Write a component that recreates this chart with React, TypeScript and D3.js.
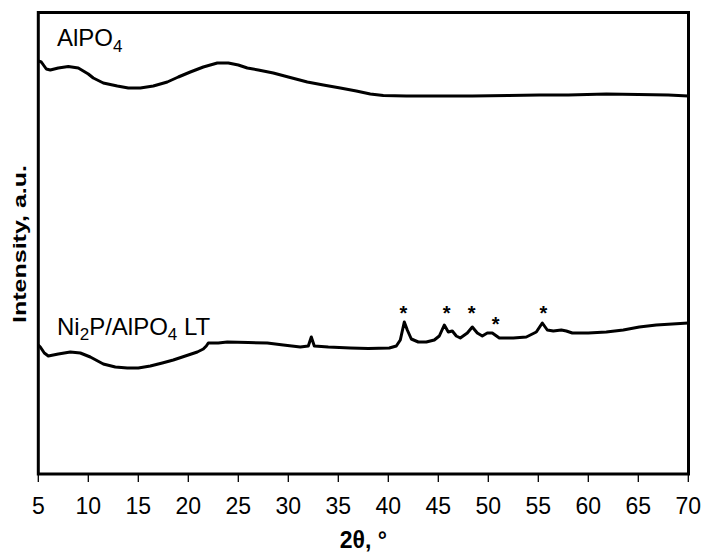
import React from "react";
import * as d3 from "d3";

// 2θ (degrees) and intensity (a.u.)
const alpo4Theta = [5.0, 5.3, 5.8, 6.2, 7.0, 8.0, 9.0, 10.0, 10.5, 11.5, 12.9, 14.0, 15.2, 16.5, 17.9, 19.0, 20.2, 21.5, 22.9, 24.0, 25.0, 25.9, 27.0, 28.5, 30.0, 31.9, 33.5, 35.2, 36.8, 38.2, 39.5, 41.8, 45.0, 48.4, 52.0, 55.1, 58.0, 61.8, 65.0, 68.0, 70.0];
const alpo4Pix = [61, 62, 69, 70, 68, 66.5, 68, 74, 78, 83, 86, 88, 88, 86, 82, 77, 72, 67, 63, 63, 65, 68, 70, 73, 77, 82, 85, 88, 91, 94, 95.5, 96, 96, 96, 95.5, 95, 95, 94, 94.5, 95, 96];

const ni2pTheta = [5.0, 5.2, 5.6, 6.0, 7.0, 8.2, 9.2, 10.2, 11.5, 12.7, 13.9, 15.0, 16.2, 17.4, 18.5, 19.7, 20.9, 21.5, 21.8, 22.0, 23.0, 23.9, 26.0, 27.9, 29.5, 31.2, 32.0, 32.3, 32.6, 34.0, 36.2, 38.0, 40.1, 40.8, 41.2, 41.6, 41.9, 42.3, 43.0, 43.8, 44.6, 45.1, 45.6, 46.0, 46.4, 46.8, 47.2, 47.9, 48.4, 48.9, 49.4, 49.9, 50.4, 51.1, 52.5, 53.8, 54.8, 55.4, 55.9, 56.5, 57.3, 57.8, 58.4, 60.0, 61.8, 63.5, 65.1, 66.8, 68.4, 70.0];
const ni2pPix = [345, 347, 353, 356, 354, 352, 353, 357, 364, 367, 368, 368, 366, 363, 360, 356, 352, 349, 346, 343, 343, 342, 342.5, 343, 345, 347, 346, 337, 346, 347, 348, 348.5, 348, 346, 340, 322, 330, 339, 342, 342, 340, 336, 325, 332, 331, 336, 338, 333, 327, 333, 336, 333, 333, 338, 338, 337, 332, 323, 330, 331, 330, 331, 333, 333, 332, 330, 327, 325, 324, 323];

// convert to intensity values (a.u.)
const BASE = 474;
const alpo4Int = alpo4Pix.map((p) => BASE - p);
const ni2pInt = ni2pPix.map((p) => BASE - p);

const xTicks = [5, 10, 15, 20, 25, 30, 35, 40, 45, 50, 55, 60, 65, 70];
const starTheta = [41.5, 45.84, 48.34, 50.74, 55.5];
const starInt = [474 - 320, 474 - 320, 474 - 320, 474 - 331, 474 - 320];

const W = 705;
const H = 556;
const FONT = "'Liberation Sans', Arial, sans-serif";

export default function App() {
  const x = d3.scaleLinear().domain([5, 70]).range([38.3, 688.3]);
  const y = d3.scaleLinear().domain([0, 461.5]).range([474, 12.5]);

  const line = d3
    .line<number>()
    .x((d) => x(d))
    .curve(d3.curveLinear);

  const path = (th: number[], val: number[]) =>
    d3
      .line<number>()
      .x((_, i) => x(th[i]))
      .y((_, i) => y(val[i]))
      .curve(d3.curveLinear)(th.map((_, i) => i)) || "";

  void line;

  return (
    <svg width={W} height={H} style={{ position: "absolute", left: 0, top: 0, background: "#fff" }} fontFamily={FONT}>
      <rect x={0} y={0} width={W} height={H} fill="#fff" />
      <path d={path(alpo4Theta, alpo4Int)} fill="none" stroke="#000" strokeWidth={3} strokeLinejoin="round" />
      <path d={path(ni2pTheta, ni2pInt)} fill="none" stroke="#000" strokeWidth={3} strokeLinejoin="round" />
      <rect x={38.3} y={12.5} width={650.2} height={461.5} fill="none" stroke="#000" strokeWidth={3} />
      {xTicks.map((t) => (
        <g key={t}>
          <line x1={x(t)} x2={x(t)} y1={475} y2={482} stroke="#000" strokeWidth={1.3} />
          <text x={x(t)} y={514} textAnchor="middle" fontSize={23} fill="#000">
            {t}
          </text>
        </g>
      ))}
      {starTheta.map((t, i) => (
        <text key={i} x={x(t)} y={y(starInt[i])} textAnchor="middle" fontSize={20} fontWeight="bold" fill="#000">
          *
        </text>
      ))}
      <text x={57} y={46} fontSize={24} fill="#000">
        AlPO<tspan fontSize={17} dy={6}>4</tspan>
      </text>
      <text x={57} y={335} fontSize={24} fill="#000">
        Ni<tspan fontSize={17} dy={5}>2</tspan>
        <tspan dy={-5}>P/AlPO</tspan>
        <tspan fontSize={17} dy={5}>4</tspan>
        <tspan dy={-5}> LT</tspan>
      </text>
      <text x={363.3} y={547.5} textAnchor="middle" fontSize={23} fontWeight="bold" fill="#000">
        2θ, °
      </text>
      <text
        transform="translate(25.5,244) rotate(-90)"
        textAnchor="middle"
        fontSize={18.5}
        fontWeight="bold"
        fill="#000"
        textLength={158}
        lengthAdjust="spacingAndGlyphs"
      >
        Intensity, a.u.
      </text>
    </svg>
  );
}
